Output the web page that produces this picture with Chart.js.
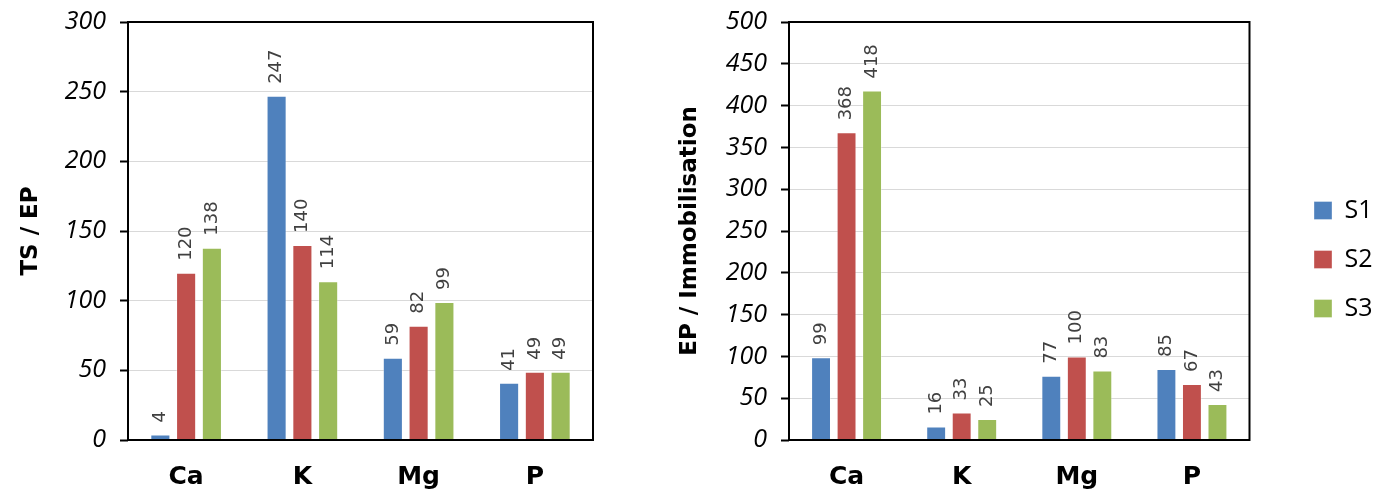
<!DOCTYPE html>
<html lang="fr">
<head>
<meta charset="UTF-8">
<title>TS / EP - EP / Immobilisation</title>
<script src="https://cdn.jsdelivr.net/npm/chart.js"></script>
<style>
  body{ margin:0; background:#fff; }
  .panel{ position:absolute; top:0; height:497px; }
  #left{ left:0; width:620px; }
  #right{ left:640px; width:745px; }
</style>
</head>
<body>
<div class="panel" id="left"><canvas id="tsChart" width="620" height="497"></canvas></div>
<div class="panel" id="right"><canvas id="epChart" width="745" height="497"></canvas></div>
<script>
const elements = ['Ca', 'K', 'Mg', 'P'];
const seriesNames = ['S1', 'S2', 'S3'];
const seriesColors = ['#4F81BD', '#C0504D', '#9BBB59'];

// TS / EP
const tsS1 = [4, 247, 59, 41];
const tsS2 = [120, 140, 82, 49];
const tsS3 = [138, 114, 99, 49];

// EP / Immobilisation
const epS1 = [99, 16, 77, 85];
const epS2 = [368, 33, 100, 67];
const epS3 = [418, 25, 83, 43];

Chart.defaults.font.family = '"Open Sans", sans-serif';
Chart.defaults.color = '#000';

// value written vertically above each bar
const barLabels = {
    id: 'barLabels',
    afterDatasetsDraw(chart) {
        const ctx = chart.ctx;
        ctx.save();
        ctx.font = '18px "DejaVu Sans"';
        ctx.fillStyle = '#404040';
        ctx.textAlign = 'left';
        ctx.textBaseline = 'middle';
        chart.data.datasets.forEach((ds, i) => {
            chart.getDatasetMeta(i).data.forEach((bar, j) => {
                ctx.save();
                ctx.translate(bar.x, bar.y - 12);
                ctx.rotate(-Math.PI / 2);
                ctx.fillText(ds.data[j], 0, 0);
                ctx.restore();
            });
        });
        ctx.restore();
    }
};

// black box round the plot area
const plotFrame = {
    id: 'plotFrame',
    afterDatasetsDraw(chart) {
        const {left, top, right, bottom} = chart.chartArea;
        const ctx = chart.ctx;
        ctx.save();
        ctx.strokeStyle = '#000';
        ctx.lineWidth = 2;
        ctx.strokeRect(left, top, right - left, bottom - top);
        ctx.restore();
    }
};

// push the legend away from the plot
const legendShift = {
    id: 'legendShift',
    afterLayout(chart) {
        if (!chart.options.plugins.legend.display) return;
        const dx = 650 - chart.legend.left;
        chart.legend.left += dx;
        chart.legend.right += dx;
    }
};

function makeChart(id, s1, s2, s3, yMax, yTitle, yWidth, titlePad, showLegend, padRight) {
    const series = [s1, s2, s3];
    return new Chart(document.getElementById(id), {
        type: 'bar',
        data: {
            labels: elements,
            datasets: series.map((vals, i) => ({
                label: seriesNames[i],
                data: vals,
                backgroundColor: seriesColors[i],
                borderColor: 'rgba(255,255,255,0.35)',
                borderWidth: 1,
                categoryPercentage: 0.665,
                barPercentage: 0.78
            }))
        },
        options: {
            responsive: false,
            animation: false,
            layout: {padding: {top: 22, right: padRight, bottom: 0, left: 0}},
            plugins: {
                tooltip: {enabled: false},
                legend: {
                    display: showLegend,
                    position: 'right',
                    align: 'center',
                    labels: {
                        boxWidth: 18,
                        boxHeight: 18,
                        padding: 24,
                        color: '#000',
                        font: {size: 25}
                    }
                }
            },
            scales: {
                x: {
                    grid: {display: false, drawTicks: false},
                    border: {display: false},
                    ticks: {
                        padding: 22,
                        color: '#000',
                        font: {family: '"DejaVu Sans"', size: 25, weight: 'bold'}
                    },
                    afterFit(scale) { scale.height = 57; }
                },
                y: {
                    min: 0,
                    max: yMax,
                    ticks: {
                        stepSize: 50,
                        padding: 14,
                        color: '#000',
                        font: {size: 25, style: 'italic'}
                    },
                    grid: {color: '#d9d9d9', lineWidth: 1, tickColor: '#000', tickLength: 8, tickWidth: 2},
                    border: {display: false},
                    title: {
                        display: true,
                        text: yTitle,
                        color: '#000',
                        padding: {top: titlePad, bottom: 0},
                        font: {family: '"DejaVu Sans"', size: 23, weight: 'bold'}
                    },
                    afterFit(scale) {
                        scale.width = yWidth;
                        scale.paddingTop = 0;
                        scale.paddingBottom = 0;
                    }
                }
            }
        },
        plugins: [barLabels, plotFrame, legendShift]
    });
}

makeChart('tsChart', tsS1, tsS2, tsS3, 300, 'TS / EP', 128, 17, false, 27);
makeChart('epChart', epS1, epS2, epS3, 500, 'EP / Immobilisation', 149, 36, true, 43);
</script>
</body>
</html>
